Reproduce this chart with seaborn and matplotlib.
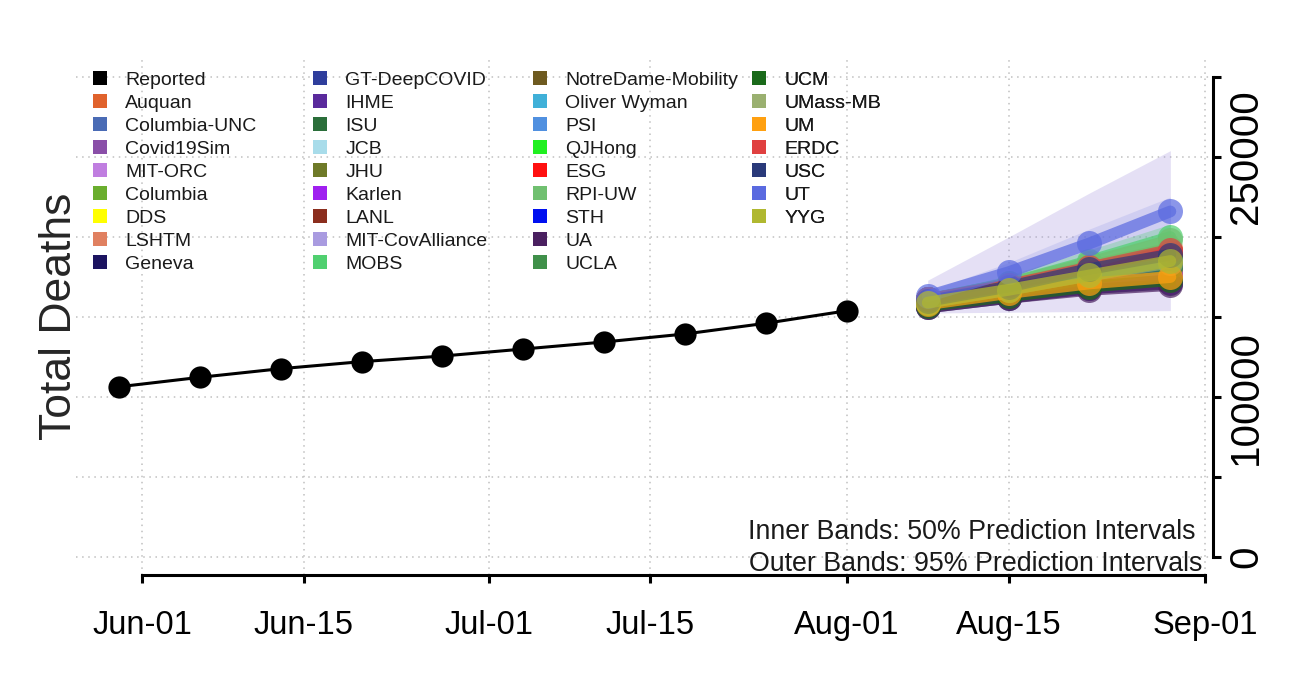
import matplotlib
matplotlib.use('Agg')
import matplotlib.pyplot as plt
import matplotlib.dates as mdates
from matplotlib.lines import Line2D
import pandas as pd
import seaborn as sns

# --- Data ---
REPORTED_DATES = ['2020-05-30', '2020-06-06', '2020-06-13', '2020-06-20', '2020-06-27',
                  '2020-07-04', '2020-07-11', '2020-07-18', '2020-07-25', '2020-08-01']
REPORTED_DEATHS = [106400, 112300, 117700, 122100, 125600,
                   130000, 134400, 139400, 146100, 153900]

FORECAST_DATES = ['2020-08-08', '2020-08-15', '2020-08-22', '2020-08-29']

MODELS = ['Auquan', 'Columbia-UNC', 'Covid19Sim', 'MIT-ORC', 'Columbia', 'DDS', 'LSHTM', 'Geneva',
          'GT-DeepCOVID', 'IHME', 'ISU', 'JCB', 'JHU', 'Karlen', 'LANL', 'MIT-CovAlliance', 'MOBS',
          'NotreDame-Mobility', 'Oliver Wyman', 'PSI', 'QJHong', 'ESG', 'RPI-UW', 'STH', 'UA', 'UCLA',
          'UCM', 'UMass-MB', 'UM', 'ERDC', 'USC', 'UT', 'YYG']
MODEL_COLORS = ['#E0622C', '#4A6BB5', '#8A4FA8', '#C07EE0', '#6AAE2E', '#FFFF00', '#E08060', '#1C1460',
                '#2F3E9C', '#5A2A9C', '#2A6E3A', '#A8DCEA', '#6E7A28', '#A020F0', '#8B2E1E', '#A99BE0',
                '#50D070', '#6E5A20', '#40B0D8', '#5090E0', '#20F020', '#FF1010', '#70C070', '#0010F0',
                '#4A2060', '#40904A', '#1A6A1A', '#9AB070', '#FFA010', '#E04040', '#2A3A7A', '#5A6AE0',
                '#B0B830']

# point forecasts per model, one list per forecast week
WEEK1 = [161000, 160000, 158000, 157000, 159000, 159000, 160000, 156000, 160000, 157000, 157000,
         160000, 158000, 157000, 161000, 159000, 161000, 159000, 160000, 160000, 160000, 161000,
         161000, 160000, 156000, 158000, 157000, 159000, 158000, 161000, 160000, 163000, 159000]
WEEK2 = [170000, 168000, 165000, 164000, 167000, 166000, 168000, 162000, 169000, 163000, 164000,
         169000, 166000, 164000, 170000, 167000, 171000, 167000, 168000, 169000, 169000, 170000,
         171000, 168000, 162000, 166000, 163000, 167000, 165000, 170000, 169000, 178000, 167000]
WEEK3 = [182000, 177000, 172000, 170000, 175000, 172000, 176000, 168000, 179000, 168000, 170000,
         178000, 173000, 171000, 181000, 175000, 185000, 175000, 177000, 179000, 179000, 180000,
         184000, 176000, 167000, 174000, 169000, 176000, 171000, 181000, 180000, 196000, 176000]
WEEK4 = [193000, 186000, 179000, 176000, 182000, 177000, 184000, 171000, 189000, 172000, 175000,
         188000, 180000, 177000, 191000, 183000, 200000, 182000, 186000, 190000, 189000, 190000,
         198000, 183000, 170000, 181000, 173000, 184000, 175000, 192000, 189000, 216000, 185000]

# prediction intervals that show up as shaded bands
OUTER_MODEL = 'MIT-CovAlliance'
OUTER_LO95 = [152500, 153000, 153500, 154000]
OUTER_HI95 = [173000, 200000, 227500, 254000]
UT_LO50 = [160000, 172000, 186000, 202000]
UT_HI50 = [166000, 184000, 205000, 225000]
MOBS_LO50 = [158000, 166000, 177000, 190000]
MOBS_HI50 = [164000, 176000, 192000, 208000]

X_TICKS = ['2020-06-01', '2020-06-15', '2020-07-01', '2020-07-15', '2020-08-01', '2020-08-15', '2020-09-01']
Y_TICKS = [0, 50000, 100000, 150000, 200000, 250000, 300000]
Y_TICK_LABELS = ['0', '', '100000', '', '', '250000', '']

# --- Styling ---
sns.set_style('white')
plt.rcParams['font.family'] = ['Liberation Sans', 'DejaVu Sans']

W, H = 1307, 673
fig = plt.figure(figsize=(W / 100, H / 100), dpi=100)
ax = fig.add_axes([76 / W, 1 - 575 / H, (1213 - 76) / W, (575 - 58) / H])

palette = dict(zip(MODELS, MODEL_COLORS))
fc_dates = pd.to_datetime(FORECAST_DATES)

# shaded bands first so the lines sit on top
ax.fill_between(fc_dates, OUTER_LO95, OUTER_HI95, color=palette[OUTER_MODEL], alpha=0.3, lw=0, zorder=1)
ax.fill_between(fc_dates, UT_LO50, UT_HI50, color=palette['UT'], alpha=0.15, lw=0, zorder=1)
ax.fill_between(fc_dates, MOBS_LO50, MOBS_HI50, color=palette['MOBS'], alpha=0.3, lw=0, zorder=1)

# forecasts, long format for seaborn
rows = []
weeks = [WEEK1, WEEK2, WEEK3, WEEK4]
for i, m in enumerate(MODELS):
    for j, d in enumerate(fc_dates):
        rows.append({'model': m, 'date': d, 'deaths': weeks[j][i]})
df_fc = pd.DataFrame(rows)

sns.lineplot(data=df_fc, x='date', y='deaths', hue='model', hue_order=MODELS, palette=palette,
             marker='o', markersize=18, markeredgewidth=0, linewidth=8.5, alpha=0.7,
             errorbar=None, legend=False, ax=ax, zorder=3)

df_rep = pd.DataFrame({'date': pd.to_datetime(REPORTED_DATES), 'deaths': REPORTED_DEATHS})
sns.lineplot(data=df_rep, x='date', y='deaths', color='black', marker='o', markersize=16,
             markeredgewidth=0, linewidth=2.2, ax=ax, zorder=4)

# --- Axes ---
jun1 = pd.Timestamp('2020-06-01')
ax.set_xlim(jun1 - pd.Timedelta(days=5.71), jun1 + pd.Timedelta(days=92.69))
ax.set_ylim(-11250, 311900)

ax.set_xticks(pd.to_datetime(X_TICKS))
ax.xaxis.set_major_formatter(mdates.DateFormatter('%b-%d'))
ax.set_yticks(Y_TICKS)
ax.set_yticklabels(Y_TICK_LABELS)
ax.yaxis.tick_right()
ax.yaxis.set_label_position('left')

for s in ['left', 'top']:
    ax.spines[s].set_visible(False)
ax.spines['bottom'].set_bounds(mdates.date2num(pd.Timestamp(X_TICKS[0])),
                               mdates.date2num(pd.Timestamp(X_TICKS[-1])))
ax.spines['right'].set_bounds(0, 300000)
for s in ['bottom', 'right']:
    ax.spines[s].set_linewidth(2.2)
    ax.spines[s].set_color('black')

ax.tick_params(axis='x', bottom=True, length=6, width=2.2, labelsize=23.5, pad=19, colors='black')
ax.tick_params(axis='y', right=True, left=False, length=6, width=2.2, labelsize=29, pad=4,
               labelrotation=90, colors='black')
for lab in ax.get_yticklabels():
    lab.set_va('center')
    lab.set_ha('left')

ax.grid(True, color='#c0c0c0', linestyle=(0, (1, 3)), linewidth=1.1)
ax.set_axisbelow(True)

ax.set_xlabel('')
ax.set_ylabel('Total Deaths', fontsize=32, labelpad=-3)

# --- Legend in four columns ---
labels = ['Reported'] + MODELS
colors = ['black'] + MODEL_COLORS
col_starts = [0, 9, 18, 27, 34]
col_x = [100, 320, 540, 759]
for c in range(4):
    a, b = col_starts[c], col_starts[c + 1]
    handles = [Line2D([], [], marker='s', linestyle='none', markersize=9.5,
                      markerfacecolor=colors[k], markeredgewidth=0) for k in range(a, b)]
    leg = ax.legend(handles, labels[a:b], loc='upper left',
                    bbox_to_anchor=((col_x[c] - 9.7) / W, 1 - 71 / H), bbox_transform=fig.transFigure,
                    frameon=False, fontsize=14, handlelength=1.0, handletextpad=0.8,
                    labelspacing=0.28, borderpad=0, borderaxespad=0)
    for t in leg.get_texts():
        t.set_color('#1a1a1a')
    ax.add_artist(leg)

ax.text(0.985, 0.083, 'Inner Bands: 50% Prediction Intervals', transform=ax.transAxes,
        ha='right', va='center', fontsize=19.3, color='#1a1a1a')
ax.text(0.991, 0.021, 'Outer Bands: 95% Prediction Intervals', transform=ax.transAxes,
        ha='right', va='center', fontsize=19.3, color='#1a1a1a')

fig.savefig('out.png', dpi=100)
